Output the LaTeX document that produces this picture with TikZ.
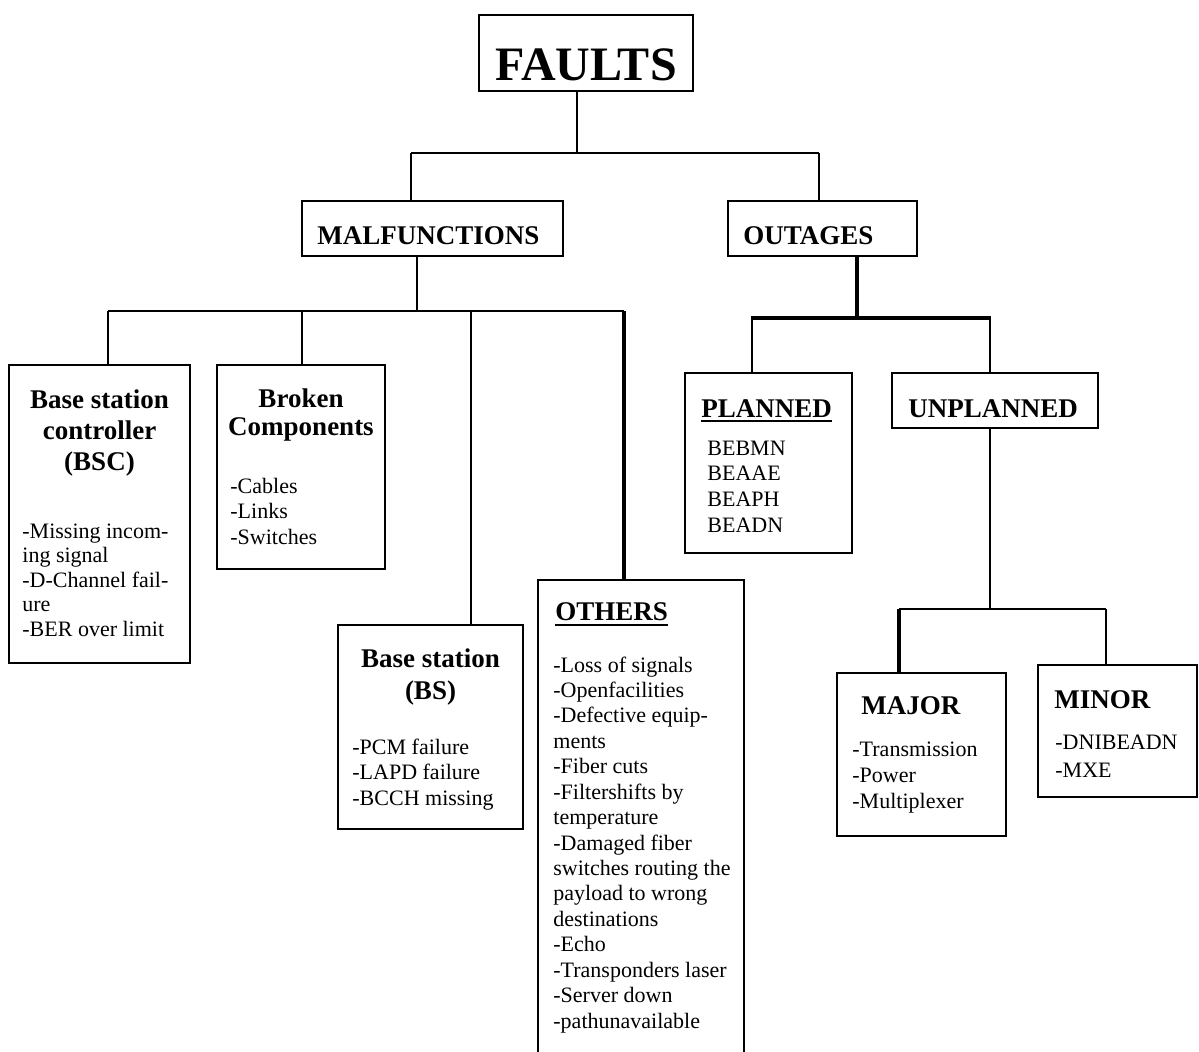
\documentclass[tikz,border=0pt]{standalone}
\usepackage{fontspec}
\setmainfont{Liberation Serif}
\begin{document}
\begin{tikzpicture}[x=0.5pt,y=-0.5pt,
  box/.style={draw,line width=1pt,inner sep=0pt,rectangle},
  conn/.style={line width=0.9pt},
  thickconn/.style={line width=1.6pt},
  ttl/.style={font=\fontsize{13.5}{15}\selectfont\bfseries,inner sep=0pt},
  itm/.style={font=\fontsize{11}{12.6}\selectfont,inner sep=0pt,anchor=base west},
]
\useasboundingbox (0,0) rectangle (1199,1051);
\clip (0,0) rectangle (1199,1051);
\fill[white] (0,0) rectangle (1199,1051);

% boxes: \bx{name}{x1}{y1}{x2}{y2}
\newcommand\bx[5]{\node[box,minimum width={(#4-#2)*0.5pt},minimum height={(#5-#3)*0.5pt}] (#1) at ({(#2+#4)/2},{(#3+#5)/2}) {};}
\bx{faults}{479}{15}{693}{91}
\bx{malf}{302}{201}{563}{256}
\bx{outages}{728}{201}{917}{256}
\bx{bsc}{9}{365}{190}{663}
\bx{broken}{217}{365}{385}{569}
\bx{bs}{338}{625}{523}{829}
\bx{others}{538}{580}{744}{1120}
\bx{planned}{685}{373}{852}{553}
\bx{unplanned}{892}{373}{1098}{428}
\bx{major}{837}{673}{1006}{836}
\bx{minor}{1038}{665}{1197}{797}

% titles
\node[inner sep=0pt,anchor=base,font=\fontsize{24}{26}\selectfont\bfseries] (faultsT) at (586,80) {FAULTS};
\node[ttl,anchor=base west] (malfT) at (317,244) {MALFUNCTIONS};
\node[ttl,anchor=base west] (outT) at (743,244) {OUTAGES};
\node[ttl,anchor=base] (bscT1) at (99.5,408) {Base station};
\node[ttl,anchor=base] (bscT2) at (99.5,439) {controller};
\node[ttl,anchor=base] (bscT3) at (99.5,470) {(BSC)};
\node[ttl,anchor=base] (brkT1) at (301,407) {Broken};
\node[ttl,anchor=base] (brkT2) at (301,435) {Components};
\node[ttl,anchor=base] (bsT1) at (430.5,667) {Base station};
\node[ttl,anchor=base] (bsT2) at (430.5,699) {(BS)};
\node[ttl,anchor=base west] (othT) at (555,620) {OTHERS};
\node[ttl,anchor=base west] (plT) at (701,417) {PLANNED};
\node[ttl,anchor=base west] (unplT) at (908,417) {UNPLANNED};
\node[ttl,anchor=base west] (majT) at (861,714) {MAJOR};
\node[ttl,anchor=base west] (minT) at (1054,708) {MINOR};
\draw[line width=1pt] ([yshift=-2.4pt]othT.base west) -- ([yshift=-2.4pt]othT.base east);
\draw[line width=1pt] ([yshift=-2pt]plT.base west) -- ([yshift=-2pt]plT.base east);

% item lists: \items{prefix}{x}{first baseline}{spacing}{list}
\newcommand\items[5]{\foreach \t [count=\i] in {#5} \node[itm] (#1-\i) at (#2,{#3+(\i-1)*#4}) {\t};}
\items{bscI}{22}{538}{24.5}{-Missing incom-,ing signal,-D-Channel fail-,ure,-BER over limit}
\items{brkI}{230}{493}{25.5}{-Cables,-Links,-Switches}
\items{bsI}{352}{754}{25.5}{-PCM failure,-LAPD failure,-BCCH missing}
\items{othI}{553}{672}{25.43}{-Loss of signals,-Openfacilities,-Defective equip-,ments,-Fiber cuts,-Filtershifts by,temperature,-Damaged fiber,switches routing the,payload to wrong,destinations,-Echo,-Transponders laser,-Server down,-pathunavailable}
\items{plI}{707}{455}{25.7}{BEBMN,BEAAE,BEAPH,BEADN}
\items{majI}{852}{756}{26}{-Transmission,-Power,-Multiplexer}
\items{minI}{1055}{749}{28}{-DNIBEADN,-MXE}

% junctions
\coordinate (jF) at (577,153);
\coordinate (jFL) at (411,153);
\coordinate (jFR) at (819,153);
\coordinate (jM) at (417,311);
\coordinate (jM1) at (108,311);
\coordinate (jM2) at (302,311);
\coordinate (jM3) at (471,311);
\coordinate (jM4) at (624,311);
\coordinate (jO) at (857,318);
\coordinate (jO1) at (752,318);
\coordinate (jO2) at (990,318);
\coordinate (jU) at (990,609);
\coordinate (jU1) at (899,609);
\coordinate (jU2) at (1106,609);

% connectors
\draw[conn] (jF |- faults.south) -- (jF);
\draw[conn] (jFL) -- (jFR);
\draw[conn] (jFL) -- (jFL |- malf.north);
\draw[conn] (jFR) -- (jFR |- outages.north);

\draw[conn] (jM |- malf.south) -- (jM);
\draw[conn] (jM1) -- (jM4);
\draw[conn] (jM1) -- (jM1 |- bsc.north);
\draw[conn] (jM2) -- (jM2 |- broken.north);
\draw[conn] (jM3) -- (jM3 |- bs.north);
\draw[thickconn] (jM4) -- (jM4 |- others.north);

\draw[thickconn] (jO |- outages.south) -- (jO);
\draw[thickconn] ([xshift=-0.5pt]jO1) -- ([xshift=0.5pt]jO2);
\draw[conn] (jO1) -- (jO1 |- planned.north);
\draw[conn] (jO2) -- (jO2 |- unplanned.north);

\draw[conn] (jU |- unplanned.south) -- (jU);
\draw[conn] (jU1) -- (jU2);
\draw[thickconn] (jU1) -- (jU1 |- major.north);
\draw[conn] (jU2) -- (jU2 |- minor.north);
\end{tikzpicture}
\end{document}
